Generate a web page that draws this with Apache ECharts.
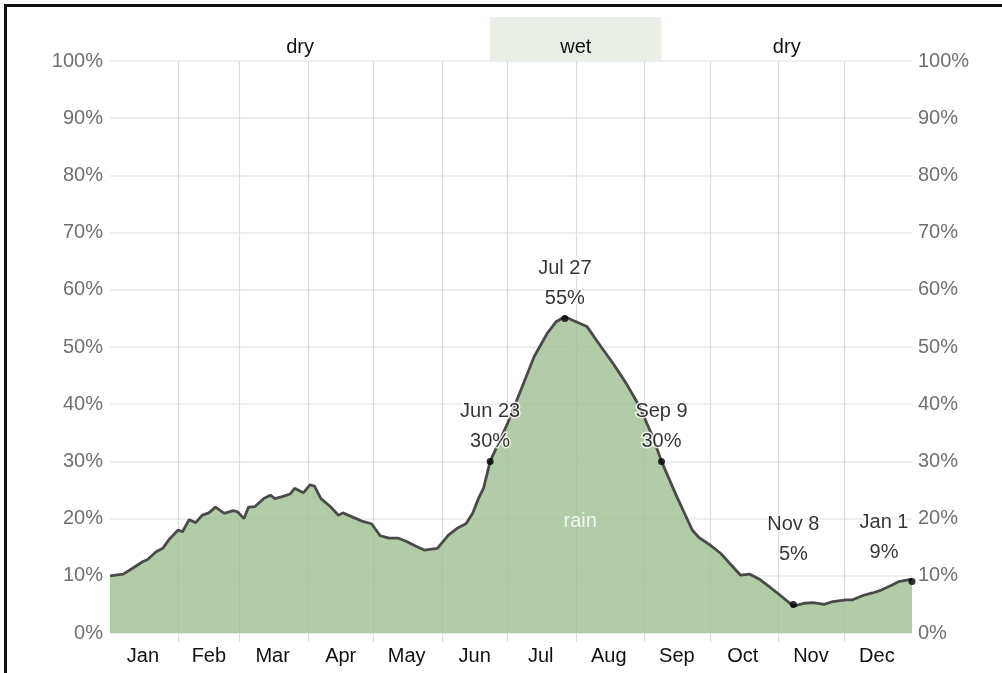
<!DOCTYPE html>
<html>
<head>
<meta charset="utf-8">
<script src="https://cdn.jsdelivr.net/npm/echarts@6/dist/echarts.min.js"></script>
<style>
  html, body { margin: 0; padding: 0; background: #fff; }
  #chart { position: absolute; left: 0; top: 0; width: 1002px; height: 673px; }
  #frame { position: absolute; left: 4px; top: 4px; width: 1100px; height: 700px;
           border-left: 3px solid #111; border-top: 3px solid #111; pointer-events: none; }
</style>
</head>
<body>
<div id="chart"></div>
<div id="frame"></div>
<script>
// ---- data ----
const monthNames = ['Jan','Feb','Mar','Apr','May','Jun','Jul','Aug','Sep','Oct','Nov','Dec'];
const monthDays = [31,28,31,30,31,30,31,31,30,31,30,31];
const yTicks = [0,10,20,30,40,50,60,70,80,90,100];
// rain probability, [day of year (0 = Jan 1), percent]
const rainDays = [0,6,11,15,17,21,24,27,31,33,36,39,42,45,48,52,56,58,61,63,66,70,73,75,78,82,84,88,91,93,96,100,104,106,112,115,119,123,127,131,135,139,143,149,154,158,162,165,168,170,173,181,187,193,199,203,207,217,223,229,235,241,247,251,258,262,265,268,273,278,282,287,291,296,300,305,311,316,320,325,329,335,338,343,347,351,356,359,365];
const rainValues = [10.0,10.3,11.5,12.5,12.8,14.2,14.8,16.4,18.0,17.7,19.8,19.3,20.6,21.0,22.0,20.9,21.4,21.2,20.0,22.0,22.1,23.5,24.1,23.5,23.8,24.3,25.3,24.5,25.9,25.7,23.5,22.2,20.6,21.0,20.0,19.5,19.1,17.0,16.6,16.6,16.0,15.2,14.5,14.8,17.1,18.3,19.1,20.9,23.8,25.3,30.0,36.7,42.5,48.3,52.4,54.4,55.3,53.6,50.3,47.1,43.6,39.6,34.3,30.0,23.8,20.5,18.0,16.7,15.4,13.9,12.2,10.1,10.3,9.3,8.1,6.6,4.7,5.2,5.3,5.0,5.5,5.8,5.8,6.6,7.0,7.5,8.4,9.0,9.4];
// annotated points
const noteDays = [173, 207, 251, 311, 365];
const noteValues = [30, 55, 30, 5, 9];
const noteLabels = ['Jun 23', 'Jul 27', 'Sep 9', 'Nov 8', 'Jan 1'];
// seasons
const seasonNames = ['dry', 'wet', 'dry'];
const seasonBounds = [0, 173, 251, 365];
const rainLabel = 'rain';
const rainLabelPos = [214, 19.5];

// ---- build ----
const FONT = '"Liberation Sans", Arial, Helvetica, sans-serif';
const FS = 20;
const totalDays = 365;
const cats = [];
for (let i = 0; i <= totalDays; i++) cats.push(String(i));
const monthStart = new Set();
const monthMid = {};
let acc = 0;
monthDays.forEach((d, i) => { monthStart.add(acc); monthMid[acc + Math.floor(d / 2)] = monthNames[i]; acc += d; });
monthStart.add(totalDays);

const rainData = rainDays.map((d, i) => [d, rainValues[i]]);
const noteOffsets = [[0, 0], [0, 0], [0, 0], [0, -30], [-28, -10]];
const noteData = noteDays.map((d, i) => ({
  value: [d, noteValues[i]],
  label: { formatter: noteLabels[i] + '\n' + noteValues[i] + '%', offset: noteOffsets[i] }
}));

const seasonAreas = seasonNames.map((n, i) => [
  { xAxis: seasonBounds[i], name: n,
    itemStyle: { color: n === 'wet' ? '#e9efe6' : 'rgba(0,0,0,0)' } },
  { xAxis: seasonBounds[i + 1] }
]);

const chart = echarts.init(document.getElementById('chart'), null, { renderer: 'canvas' });
const yLabel = { color: '#707070', fontSize: FS, fontFamily: FONT, formatter: '{value}%' };
chart.setOption({
  animation: false,
  textStyle: { fontFamily: FONT },
  grid: [
    { left: 110, right: 90, top: 61, bottom: 40 },
    { left: 110, right: 90, top: 17, height: 44 }
  ],
  xAxis: [
    { type: 'category', gridIndex: 0, data: cats, boundaryGap: false,
      axisLine: { show: false },
      axisTick: { show: true, length: 9, lineStyle: { color: '#dcdcdc', width: 1.2 },
                  interval: (idx) => monthStart.has(idx) && idx > 0 && idx < totalDays },
      splitLine: { show: true, lineStyle: { color: '#dcdcdc', width: 1.2 },
                   interval: (idx) => monthStart.has(idx) && idx > 0 && idx < totalDays },
      axisLabel: { show: true, interval: (idx) => monthMid[idx] !== undefined,
                   formatter: (v, idx) => monthMid[idx] || '',
                   color: '#111', fontSize: FS, fontFamily: FONT, margin: 13 } },
    { type: 'value', gridIndex: 1, min: 0, max: totalDays, show: false }
  ],
  yAxis: [
    { type: 'value', gridIndex: 0, min: 0, max: 100, interval: 10, position: 'left',
      axisLine: { show: false }, axisTick: { show: false },
      splitLine: { lineStyle: { color: '#efefef', width: 2 } },
      axisLabel: Object.assign({ margin: 7 }, yLabel) },
    { type: 'value', gridIndex: 0, min: 0, max: 100, interval: 10, position: 'right',
      axisLine: { show: false }, axisTick: { show: false }, splitLine: { show: false },
      axisLabel: Object.assign({ margin: 6 }, yLabel) },
    { type: 'value', gridIndex: 1, min: 0, max: 1, show: false }
  ],
  series: [
    { type: 'line', xAxisIndex: 0, yAxisIndex: 0, data: rainData,
      showSymbol: false, smooth: false,
      lineStyle: { color: '#4a4a4a', width: 2.8 },
      areaStyle: { color: 'rgb(160,191,146)', opacity: 0.8 },
      markPoint: { symbol: 'circle', symbolSize: 0, silent: true,
        data: [{ coord: rainLabelPos, value: rainLabel }],
        label: { show: true, formatter: rainLabel, color: 'rgba(255,255,255,0.85)',
                 fontSize: FS, fontFamily: FONT, position: 'inside' } },
      z: 2 },
    { type: 'scatter', xAxisIndex: 0, yAxisIndex: 0, data: noteData,
      symbol: 'circle', symbolSize: 7, itemStyle: { color: '#000' },
      label: { show: true, position: 'top', distance: 1, color: '#000', fontSize: FS,
               fontFamily: FONT, lineHeight: 30, align: 'center',
               textBorderColor: '#fff', textBorderWidth: 3 },
      z: 5 },
    { type: 'line', xAxisIndex: 1, yAxisIndex: 2, data: [[0, 0], [totalDays, 0]],
      showSymbol: false, lineStyle: { opacity: 0 }, silent: true,
      markArea: { silent: true, data: seasonAreas,
        label: { show: true, position: 'inside', offset: [0, 8], color: '#111',
                 fontSize: FS, fontFamily: FONT } } }
  ]
});
</script>
</body>
</html>
